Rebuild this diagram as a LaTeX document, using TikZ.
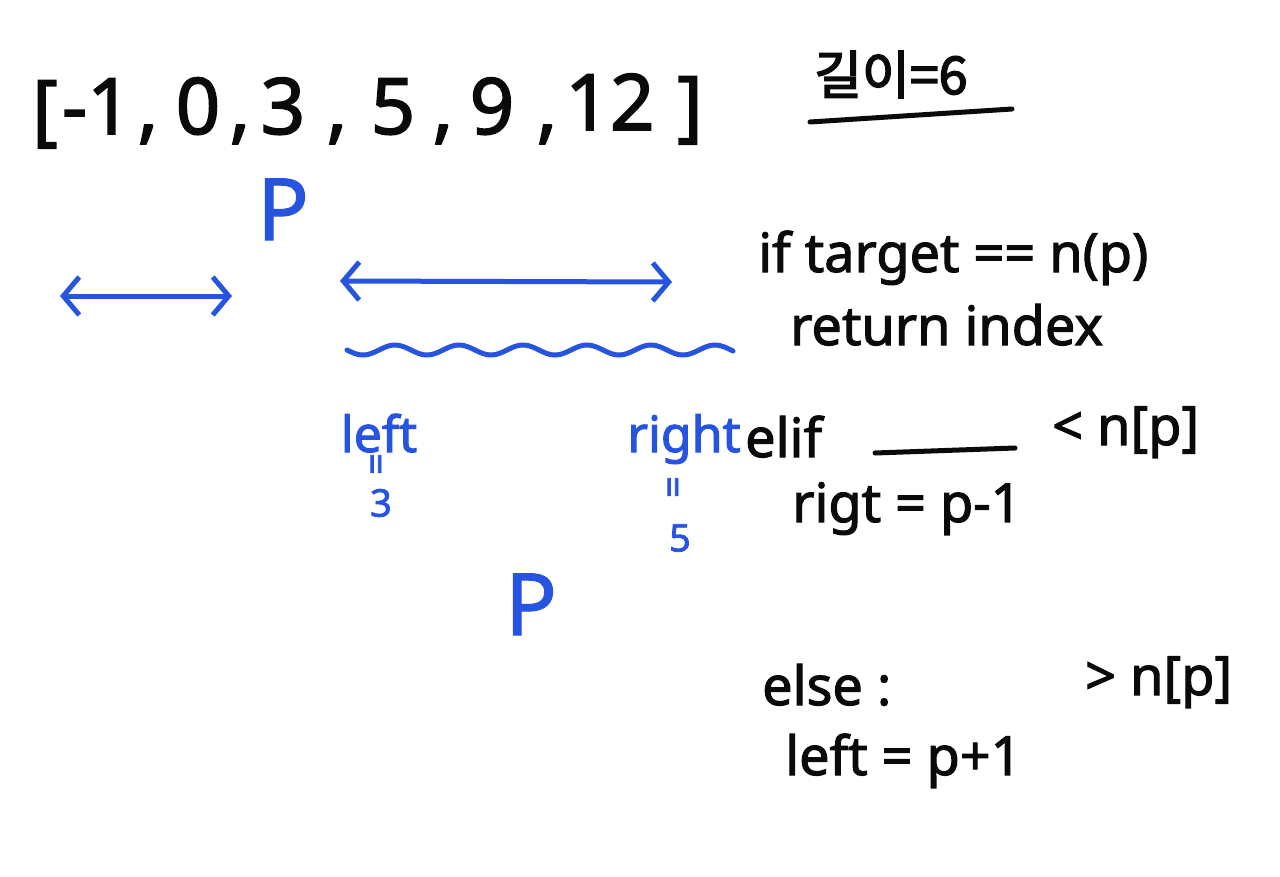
\documentclass[tikz,border=0pt]{standalone}
\usepackage{fontspec}
\setmainfont{Noto Sans}
\newfontfamily\penfont{Noto Sans}[FakeBold=2]
\newfontfamily\penthin{Noto Sans}[FakeBold=1.2]
\newfontfamily\krfont{Noto Sans CJK KR}[FakeBold=3]
\usetikzlibrary{arrows.meta}
\definecolor{penblue}{RGB}{38,84,224}
\definecolor{penblack}{RGB}{10,10,10}
\tikzset{
  arr/.style={font=\penfont\fontsize{78}{80}\selectfont, text=penblack, inner sep=0pt, anchor=base},
  code/.style={font=\penfont\fontsize{54}{58}\selectfont, text=penblack, inner sep=0pt, anchor=base west},
  bluetxt/.style={font=\penfont\fontsize{50}{52}\selectfont, text=penblue, inner sep=0pt, anchor=base},
  bluesmall/.style={font=\penfont\fontsize{38}{40}\selectfont, text=penblue, inner sep=0pt, anchor=center},
  bigp/.style={font=\penthin\fontsize{86}{88}\selectfont, text=penblue, inner sep=0pt, anchor=base},
  bluearrow/.style={draw=penblue, line width=5pt, line cap=round,
    {Straight Barb[length=16pt,width=38pt,line width=5pt]}-{Straight Barb[length=16pt,width=38pt,line width=5pt]}},
  penline/.style={draw=penblack, line width=5pt, line cap=round},
}
\begin{document}
\begin{tikzpicture}[x=1pt,y=-1pt]
\fill[white] (0,0) rectangle (1280,876);
\useasboundingbox (0,0) rectangle (1280,876);
% array
\node[arr] (b1) at (45,136) {[};
\node[arr] (e1) at (97,134) {-1};
\node[arr] (c1) at (148,134) {,};
\node[arr] (e2) at (198,134) {0};
\node[arr] (c2) at (240,134) {,};
\node[arr] (e3) at (283,134) {3};
\node[arr] (c3) at (337,134) {,};
\node[arr] (e4) at (393,134) {5};
\node[arr] (c4) at (443,134) {,};
\node[arr] (e5) at (492,134) {9};
\node[arr] (c5) at (547,134) {,};
\node[arr] (e6) at (610,130) {12};
\node[arr] (b2) at (690,132) {]};
% length
\node[font=\krfont\fontsize{52}{54}\selectfont, text=penblack, inner sep=0pt, anchor=base west] (len) at (814,94) {길이=6};
\coordinate (u1) at (810,122);
\coordinate (u2) at (1012,109);
\draw[penline] (u1) -- (u2);
% pointer p
\node[bigp] (p1) at (283,240) {P};
% arrows
\coordinate (a1) at (60,296);
\coordinate (a2) at (232,296);
\draw[bluearrow] (a1) -- (a2);
\coordinate (a3) at (340,281);
\coordinate (a4) at (672,282);
\draw[bluearrow] (a3) -- (a4);
% wave
\draw[draw=penblue, line width=5pt, line cap=round]
  plot[domain=347:733, samples=120, smooth] (\x, {350 + 5*sin((\x-347)*5.625)});
% left / right
\node[bluetxt] (lt) at (379,452) {left};
\node[bluesmall, rotate=90] (leq) at (380,464) {=};
\node[bluesmall] (lv) at (381,503) {3};
\node[bluetxt] (rt) at (684,452) {right};
\node[bluesmall, rotate=90] (req) at (677,487) {=};
\node[bluesmall] (rv) at (680,538) {5};
\node[bigp] (p2) at (531,635) {P};
% code
\node[code] (if) at (758,272) {if target == n(p)};
\node[code] (ret) at (790,345) {return index};
\node[code] (elif) at (745,457) {elif};
\coordinate (b3) at (875,453);
\coordinate (b4) at (1015,448);
\draw[penline] (b3) -- (b4);
\node[code] (lt2) at (1052,445) {< n[p]};
\node[code] (rset) at (792,522) {rigt = p-1};
\node[code] (else) at (762,705) {else :};
\node[code] (gt) at (1085,695) {> n[p]};
\node[code] (lset) at (785,775) {left = p+1};
\end{tikzpicture}
\end{document}
